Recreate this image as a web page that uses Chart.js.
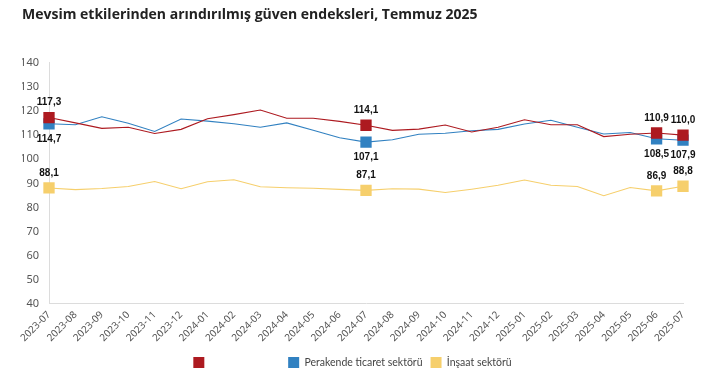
<!DOCTYPE html>
<html>
<head>
<meta charset="utf-8">
<script src="https://cdn.jsdelivr.net/npm/chart.js@4/dist/chart.umd.min.js"></script>
<style>
  html, body { margin: 0; padding: 0; background: #fff; }
  #wrap { width: 712px; height: 391px; position: relative; }
</style>
</head>
<body>
<div id="wrap"><canvas id="myChart"></canvas></div>
<script>
const months = ['2023-07','2023-08','2023-09','2023-10','2023-11','2023-12','2024-01','2024-02','2024-03','2024-04','2024-05','2024-06',
  '2024-07','2024-08','2024-09','2024-10','2024-11','2024-12','2025-01','2025-02','2025-03','2025-04','2025-05','2025-06','2025-07']
// hizmet sektoru (legend text is blank in the original)
const hizmet = [117.3,115.1,112.8,113.3,110.7,112.4,116.8,118.5,120.4,117.0,117.0,115.7,
  114.1,112.0,112.5,114.2,111.3,113.3,116.4,114.3,114.3,109.4,110.4,110.9,110.0]
const perakende = [114.7,114.3,117.6,114.9,111.5,116.7,115.8,114.7,113.3,115.1,112.0,108.9,
  107.1,108.1,110.4,110.8,111.8,112.4,114.6,116.2,113.3,110.5,111.1,108.5,107.9]
const insaat = [88.1,87.4,87.9,88.7,90.8,87.8,90.7,91.5,88.6,88.2,88.0,87.5,
  87.1,87.8,87.6,86.2,87.6,89.2,91.4,89.2,88.7,84.9,88.3,86.9,88.8]
const labelled = [0,12,23,24]   // points that get a marker and value

const red = '#AD1A20', blue = '#3181C1', yellow = '#F6CF6C'

function radii(){
  return months.map((m,i)=> labelled.indexOf(i)>=0 ? 8 : 0)
}

// value labels next to the square markers
const valueLabels = {
  id: 'valueLabels',
  afterDatasetsDraw(chart){
    const ctx = chart.ctx
    ctx.save()
    ctx.font = 'bold 10px "Liberation Sans", Arial, sans-serif'
    ctx.fillStyle = '#111'
    ctx.textAlign = 'center'
    ctx.textBaseline = 'middle'
    chart.data.datasets.forEach((ds, di)=>{
      const meta = chart.getDatasetMeta(di)
      labelled.forEach(i=>{
        const pt = meta.data[i]
        const txt = ds.data[i].toFixed(1).replace('.', ',')
        const dy = ds.below ? 15 : -15
        ctx.fillText(txt, pt.x, pt.y + dy)
      })
    })
    ctx.restore()
  }
}

const ctx = document.getElementById('myChart').getContext('2d')
const myChart = new Chart(ctx, {
  type: 'line',
  data: {
    labels: months,
    datasets: [{
      label: 'Hizmet sektörü',
      data: hizmet,
      borderColor: red,
      backgroundColor: red,
      borderWidth: 1.1,
      pointStyle: 'rect',
      pointRadius: radii(),
      pointHoverRadius: radii(),
      pointBorderWidth: 0,
      hiddenText: true,
      tension: 0
    }, {
      label: 'Perakende ticaret sektörü',
      data: perakende,
      borderColor: blue,
      backgroundColor: blue,
      borderWidth: 1.1,
      pointStyle: 'rect',
      pointRadius: radii(),
      pointHoverRadius: radii(),
      pointBorderWidth: 0,
      below: true,
      tension: 0
    }, {
      label: 'İnşaat sektörü',
      data: insaat,
      borderColor: yellow,
      backgroundColor: yellow,
      borderWidth: 1.1,
      pointStyle: 'rect',
      pointRadius: radii(),
      pointHoverRadius: radii(),
      pointBorderWidth: 0,
      tension: 0
    }]
  },
  options: {
    responsive: true,
    maintainAspectRatio: false,
    animation: false,
    layout: { padding: { left: 22, right: 29, top: 0, bottom: 13 } },
    plugins: {
      title: {
        display: true,
        text: 'Mevsim etkilerinden arındırılmış güven endeksleri, Temmuz 2025',
        align: 'start',
        color: '#222',
        font: { family: '"Open Sans", sans-serif', size: 14, weight: 'bold' },
        padding: { top: 7, bottom: 39 }
      },
      legend: {
        position: 'bottom',
        labels: {
          boxWidth: 11,
          boxHeight: 11,
          padding: 8,
          color: '#444',
          font: { family: 'Lato, sans-serif', size: 10.5 },
          generateLabels(chart){
            return chart.data.datasets.map((ds, i)=>({
              text: ds.label,
              fillStyle: ds.borderColor,
              strokeStyle: ds.borderColor,
              lineWidth: 0,
              fontColor: ds.hiddenText ? 'rgba(255,255,255,0)' : '#444',
              hidden: false,
              datasetIndex: i
            }))
          }
        }
      },
      tooltip: { enabled: false }
    },
    scales: {
      x: {
        offset: false,
        grid: { display: false, drawTicks: false },
        border: { display: true, color: '#dcdcdc' },
        ticks: {
          minRotation: 45, maxRotation: 45, autoSkip: false, padding: 5,
          color: '#555',
          font: { family: '"Noto Sans", sans-serif', size: 10 }
        }
      },
      y: {
        min: 40, max: 140,
        grid: { display: false, drawTicks: false },
        border: { display: true, color: '#dcdcdc' },
        afterFit(scale){ scale.width = 27 },
        ticks: {
          stepSize: 10, padding: 10,
          color: '#555',
          font: { family: '"Noto Sans", sans-serif', size: 11 }
        }
      }
    }
  },
  plugins: [valueLabels]
})
</script>
</body>
</html>
